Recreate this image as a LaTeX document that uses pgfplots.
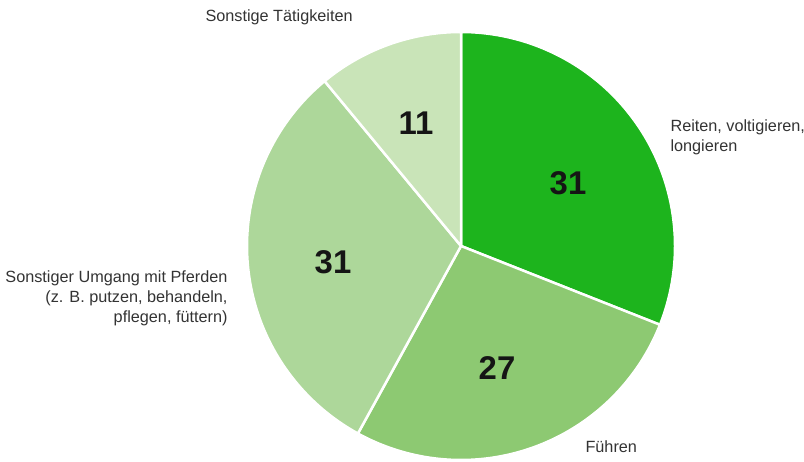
\documentclass[border=0pt]{standalone}
\usepackage{pgfplots}
\pgfplotsset{compat=1.18}
\usepackage{pgfplotstable}
\usepackage{fontspec}
\setmainfont{Liberation Sans}
\definecolor{cA}{HTML}{1DB41D}
\definecolor{cB}{HTML}{8DC972}
\definecolor{cC}{HTML}{ADD79A}
\definecolor{cD}{HTML}{C9E4B8}
\definecolor{lbl}{HTML}{333333}
\definecolor{num}{HTML}{151515}
\pgfplotstableread{
idx value
0 31
1 27
2 31
3 11
}\piedata
\begin{document}%
\begin{tikzpicture}
\pgfplotstablegetelem{0}{value}\of\piedata \let\vA\pgfplotsretval
\pgfplotstablegetelem{1}{value}\of\piedata \let\vB\pgfplotsretval
\pgfplotstablegetelem{2}{value}\of\piedata \let\vC\pgfplotsretval
\pgfplotstablegetelem{3}{value}\of\piedata \let\vD\pgfplotsretval
\pgfmathsetmacro{\aA}{90}
\pgfmathsetmacro{\aB}{\aA-3.6*\vA}
\pgfmathsetmacro{\aC}{\aB-3.6*\vB}
\pgfmathsetmacro{\aD}{\aC-3.6*\vC}
\pgfmathsetmacro{\aE}{\aD-3.6*\vD}
\begin{axis}[width=804bp,height=462bp,scale only axis,
  xmin=0,xmax=804,ymin=0,ymax=462,hide axis,clip=false,
  xtick=\empty,ytick=\empty]
\pgfplotsset{slice/.style={draw=white,line width=2.5bp,line join=round,samples=120,variable=\t}}
\addplot[slice,fill=cA,domain=\aB:\aA] ({461+214*cos(\t)},{216+214*sin(\t)}) -- (axis cs:461,216) -- cycle;
\addplot[slice,fill=cB,domain=\aC:\aB] ({461+214*cos(\t)},{216+214*sin(\t)}) -- (axis cs:461,216) -- cycle;
\addplot[slice,fill=cC,domain=\aD:\aC] ({461+214*cos(\t)},{216+214*sin(\t)}) -- (axis cs:461,216) -- cycle;
\addplot[slice,fill=cD,domain=\aE:\aD] ({461+214*cos(\t)},{216+214*sin(\t)}) -- (axis cs:461,216) -- cycle;
\coordinate (SW) at (rel axis cs:0,0);
\coordinate (NE) at (rel axis cs:1,1);
\begin{scope}[font=\fontsize{33}{36}\selectfont\bfseries,text=num]
\node at (axis cs:568,279) {\vA};
\node at (axis cs:497,94) {\vB};
\node at (axis cs:333,200) {\vC};
\node at (axis cs:416,339) {\vD};
\end{scope}
\begin{scope}[font=\fontsize{16.3}{20}\selectfont,text=lbl]
\node[anchor=west] at (axis cs:202,445) {Sonstige Tätigkeiten};
\node[anchor=west,align=left] at (axis cs:667,325) {Reiten, voltigieren,\\longieren};
\node[anchor=east,align=right] at (axis cs:231,164) {Sonstiger Umgang mit Pferden\\(z. B. putzen, behandeln,\\pflegen, füttern)};
\node[anchor=west] at (axis cs:582,15) {Führen};
\end{scope}
\end{axis}
\pgfresetboundingbox
\path[use as bounding box] (SW) rectangle (NE);
\end{tikzpicture}%
\end{document}
